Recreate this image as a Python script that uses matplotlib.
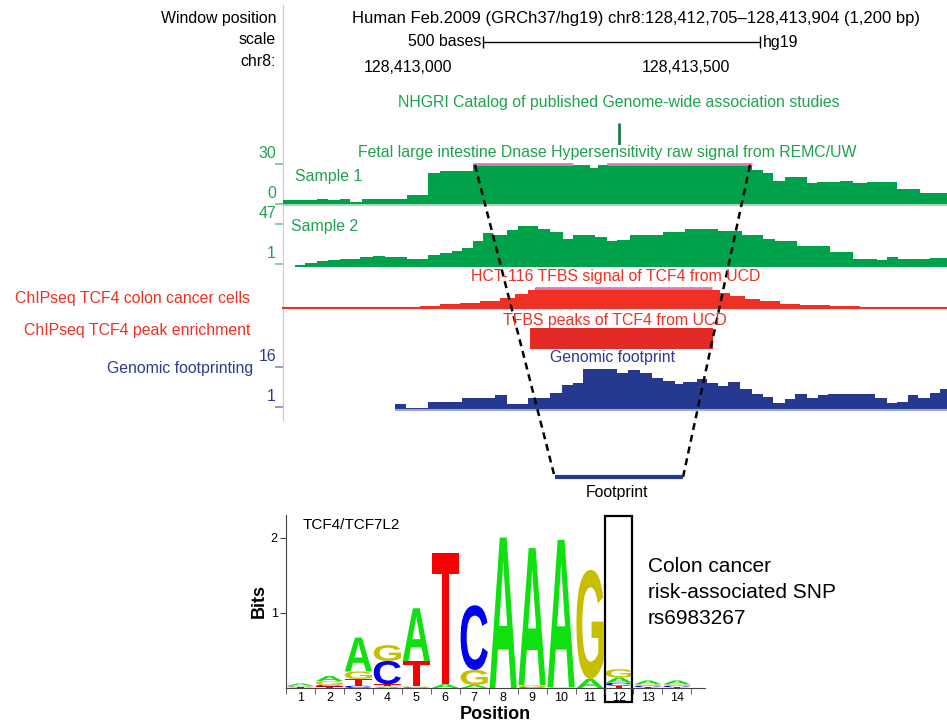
"""
TCF4 binding site at rs6983267: UCSC-style browser tracks plus the TCF4/TCF7L2 sequence logo.
"""
import numpy as np
import matplotlib
matplotlib.use("Agg")
import matplotlib.pyplot as plt
import matplotlib.transforms as mtransforms
from matplotlib.textpath import TextPath
from matplotlib.patches import PathPatch, Rectangle
from matplotlib.font_manager import FontProperties

plt.rcParams["font.family"] = ["Liberation Sans", "DejaVu Sans"]

# ── 1. Browser data (x = bp offset from chr8:128,412,705) ─────────────────────
WINDOW_BP = 1200
SCALE_START, SCALE_LEN = 362, 500
GWAS_SNP = 607

S1_EDGES = [0, 61, 81, 103, 121, 143, 224, 262, 284, 305, 343, 524, 555, 569, 585,
            847, 867, 885, 907, 947, 965, 1006, 1030, 1055, 1110, 1151, 1200]
S1_VALUES = [3, 3.7, 3, 4, 1.7, 3.7, 7, 23.6, 25, 24.4, 34, 29, 27, 29.5, 34,
             25.4, 23.6, 17.5, 20, 15.6, 16.5, 17.2, 16, 16.5, 11.5, 8.6]

S2_EDGES = [22, 40, 61, 81, 103, 139, 163, 184, 224, 262, 284, 305, 323, 343, 361,
            379, 405, 425, 461, 482, 506, 524, 564, 585, 604, 627, 687, 726, 786,
            829, 867, 889, 929, 988, 1030, 1073, 1091, 1111, 1169, 1200]
S2_VALUES = [0.5, 3, 4.7, 5.8, 7.6, 9, 11, 9, 6.9, 12, 14.5, 16, 19.3, 27.3, 36.8,
             35, 39.7, 44.8, 41.2, 37.5, 30.3, 35, 32, 27.7, 28.7, 33.9, 37.9, 41.2,
             38.6, 34.2, 29.5, 27.3, 21.5, 15, 7.6, 5.8, 9.5, 6.9, 8.4]

CHIP_EDGES = [211, 248, 284, 320, 356, 392, 419, 443, 455, 775, 790, 808, 835,
              862, 898, 934, 988, 1043, 1108]
CHIP_VALUES = [0.5, 2.5, 4, 5.5, 7.5, 10, 14, 18, 25, 18, 15, 12, 9.5, 7, 4.5,
               3.5, 2.5, 1.5]

PEAK = (446, 777)

FP_EDGES = [202, 222, 262, 323, 383, 405, 443, 482, 504, 524, 542, 604, 623, 645,
            667, 687, 708, 723, 748, 766, 786, 804, 826, 847, 867, 885, 907, 925,
            947, 967, 985, 1070, 1091, 1110, 1129, 1147, 1169, 1187, 1200]
FP_VALUES = [2.25, 0.6, 3.1, 4.4, 5.6, 2.25, 4.4, 6.2, 9.4, 10.2, 15.4, 13.7, 14.7,
             13.7, 11.9, 10.9, 9.7, 10.6, 11.6, 10, 9.1, 10.4, 7.8, 5.9, 4.8, 2.5,
             4.1, 6, 4.4, 5.4, 6, 4.4, 2.7, 3.1, 5.4, 4.4, 6.2, 7.8]

CLIPPED_REGION = (347, 844)     # top of the dashed trapezoid
FOOTPRINT = (491, 723)          # zoomed footprint bar

# ── 2. Sequence logo data (bits per base, positions 1-14) ─────────────────────
POSITIONS = list(range(1, 15))
A_BITS = [0.03, 0.07, 0.45, 0.02, 0.70, 0.05, 0.04, 2.00, 1.82, 1.96, 0.12, 0.07, 0.05, 0.05]
C_BITS = [0.01, 0.02, 0.03, 0.31, 0.01, 0.00, 0.86, 0.00, 0.01, 0.00, 0.00, 0.04, 0.02, 0.02]
G_BITS = [0.01, 0.05, 0.10, 0.21, 0.01, 0.00, 0.20, 0.00, 0.03, 0.01, 1.45, 0.11, 0.02, 0.02]
T_BITS = [0.01, 0.02, 0.09, 0.03, 0.34, 1.75, 0.00, 0.00, 0.00, 0.00, 0.00, 0.03, 0.01, 0.01]
# bottom-to-top stacking as drawn in the logo
STACK_ORDER = ["TCGA", "TCGA", "CTGA", "ATCG", "CGTA", "CGAT", "TAGC",
               "CGTA", "CTGA", "CTGA", "CTAG", "TCAG", "TCGA", "TCGA"]
SNP_POS = 12

GREEN, GREEN_TXT, GREEN_TICK = "#00A14B", "#1FA24E", "#72C690"
RED = "#EE3124"
BLUE, BLUE_TXT, BLUE_TICK = "#24398F", "#2E3A93", "#7F8CC4"
PINK = "#DC7CB8"
LETTER_COLORS = {"A": "#10E010", "C": "#0000F0", "G": "#C8BE00", "T": "#F80000"}
FS = 11.4

# ── 3. Figure scaffolding ─────────────────────────────────────────────────────
W, H = 947, 724
fig = plt.figure(figsize=(W / 100, H / 100), dpi=100)


def px_axes(left, top, right, bottom):
    ax = fig.add_axes([left / W, 1 - bottom / H, (right - left) / W, (bottom - top) / H])
    ax.patch.set_alpha(0)
    return ax


def ftext(x, y, s, **kw):
    kw.setdefault("va", "center")
    kw.setdefault("fontsize", FS)
    fig.text(x / W, 1 - y / H, s, **kw)


def track_axes(top, bottom, lo, hi):
    ax = px_axes(283, top, 947, bottom)
    ax.set_xlim(0, WINDOW_BP)
    ax.set_ylim(lo, hi)
    for s in ax.spines.values():
        s.set_visible(False)
    ax.set_xticks([])
    ax.set_yticks([])
    return ax


def y_scale(ax, ticks, color, tick_color):
    ax.set_yticks(ticks)
    ax.set_yticklabels([])
    ax.tick_params(axis="y", length=6, width=1.2, color=tick_color, direction="out")
    for v in ticks:
        ax.annotate(str(v), xy=(0, v), xycoords=("axes fraction", "data"),
                    xytext=(-7, 11), textcoords="offset pixels",
                    ha="right", va="center", fontsize=FS, color=color)


def signal(ax, edges, values, lo, hi, color):
    vals = np.asarray(values, dtype=float)
    ax.stairs(np.minimum(vals, hi), edges, fill=True, baseline=lo, color=color, lw=0)
    e = np.asarray(edges)
    clip = vals > hi
    ax.hlines(np.full(clip.sum(), hi), e[:-1][clip], e[1:][clip], color=PINK, lw=2,
              clip_on=False)


# pink separator between labels and tracks
sep = px_axes(283, 5, 947, 420)
sep.set_xticks([]); sep.set_yticks([])
for k, s in sep.spines.items():
    s.set_visible(k == "left")
sep.spines["left"].set_color("#F5B5C2")

# header
ftext(276, 18, "Window position", ha="right")
ftext(276, 40, "scale", ha="right")
ftext(276, 61, "chr8:", ha="right")
ftext(352, 18, "Human Feb.2009 (GRCh37/hg19) chr8:128,412,705\u2013128,413,904 (1,200 bp)",
      ha="left", fontsize=12)
ftext(481, 42, "500 bases", ha="right")
ftext(763, 42, "hg19", ha="left")
ftext(408, 67, "128,413,000", ha="center")
ftext(686, 67, "128,413,500", ha="center")

hdr = track_axes(30, 54, -1, 1)
hdr.hlines(0, SCALE_START, SCALE_START + SCALE_LEN, color="black", lw=1)
hdr.vlines([SCALE_START, SCALE_START + SCALE_LEN], -0.5, 0.5, color="black", lw=1)

# GWAS catalogue
ftext(619, 103, "NHGRI Catalog of published Genome-wide association studies",
      ha="center", color=GREEN_TXT)
gw = track_axes(123, 145, 0, 1)
gw.vlines(GWAS_SNP, 0, 1, color="#1C7C47", lw=2)

# DNase samples
ftext(607, 153, "Fetal large intestine Dnase Hypersensitivity raw signal from REMC/UW",
      ha="center", color=GREEN_TXT)
s1 = track_axes(164, 204, 0, 30)
s1.axhline(0, color="#9BD8B0", lw=2, zorder=0, clip_on=False)
signal(s1, S1_EDGES, S1_VALUES, 0, 30, GREEN)
y_scale(s1, [0, 30], GREEN_TXT, GREEN_TICK)
ftext(295, 176, "Sample 1", ha="left", color=GREEN_TXT)

s2 = track_axes(224, 267, -2, 47)
signal(s2, S2_EDGES, S2_VALUES, -2, 47, GREEN)
y_scale(s2, [1, 47], GREEN_TXT, GREEN_TICK)
ftext(291, 227, "Sample 2", ha="left", color=GREEN_TXT)

# ChIP-seq signal and peak
ftext(616, 277, "HCT-116 TFBS signal of TCF4 from UCD", ha="center", color=RED)
ftext(250, 298, "ChIPseq TCF4 colon cancer cells", ha="right", color=RED)
ch = track_axes(288, 308, 0, 20)
ch.axhline(0, color=RED, lw=1.5, clip_on=False)
signal(ch, CHIP_EDGES, CHIP_VALUES, 0, 20, RED)

ftext(615, 320, "TFBS peaks of TCF4 from UCD", ha="center", color=RED)
ftext(250, 331, "ChIPseq TCF4 peak enrichment", ha="right", color=RED)
pk = track_axes(328, 349, -0.5, 0.5)
pk.barh(0, PEAK[1] - PEAK[0], left=PEAK[0], height=1, color="#E42A24")

# genomic footprinting
ftext(613, 357, "Genomic footprint", ha="center", color=BLUE_TXT)
ftext(253, 369, "Genomic footprinting", ha="right", color=BLUE_TXT)
fp = track_axes(367, 410, 0, 16)
fp.hlines(0, FP_EDGES[0], FP_EDGES[-1], color="#9AA8DA", lw=1.5, clip_on=False)
signal(fp, FP_EDGES, FP_VALUES, 0, 16, BLUE)
y_scale(fp, [1, 16], BLUE_TXT, BLUE_TICK)

# dashed zoom lines and footprint bar
ov = track_axes(165, 477, 0, 1)
for top_x, bot_x in zip(CLIPPED_REGION, FOOTPRINT):
    ov.plot([top_x, bot_x], [1, 0], color="black", lw=1.8, ls=(0, (2.8, 2.0)),
            clip_on=False)
ov.hlines(0, FOOTPRINT[0], FOOTPRINT[1], color=BLUE, lw=3, clip_on=False)
ftext(617, 492, "Footprint", ha="center")

# ── 4. Sequence logo ─────────────────────────────────────────────────────────
logo_font = FontProperties(family="Liberation Sans", weight="bold")


def draw_letter(ax, ch, x, y, w, h, color):
    tp = TextPath((0, 0), ch, size=1, prop=logo_font)
    bb = tp.get_extents()
    tr = (mtransforms.Affine2D().translate(-bb.x0, -bb.y0)
          .scale(w / bb.width, h / bb.height).translate(x, y))
    ax.add_patch(PathPatch(tr.transform_path(tp), fc=color, ec="none", lw=0))


lg = px_axes(286, 515, 705, 688)
lg.set_xlim(0.62, 14.97)
lg.set_ylim(0, 2.3)
lg.spines["top"].set_visible(False)
lg.spines["right"].set_visible(False)
lg.spines["left"].set_color("#444444")
lg.spines["bottom"].set_color("#444444")

bits = {"A": A_BITS, "C": C_BITS, "G": G_BITS, "T": T_BITS}
for i, pos in enumerate(POSITIONS):
    base = 0.0
    for b in STACK_ORDER[i]:
        h = bits[b][i]
        if h <= 0:
            continue
        draw_letter(lg, b, pos - 0.47, base, 0.94, h, LETTER_COLORS[b])
        base += h

lg.set_yticks([1, 2])
lg.set_yticklabels(["1", "2"], fontsize=9)
lg.set_xticks(POSITIONS)
lg.set_xticklabels([str(p) for p in POSITIONS], fontsize=9)
lg.set_xticks(np.arange(0.5, 15, 1.0), minor=True)
lg.tick_params(axis="x", which="major", length=0, pad=3)
lg.tick_params(axis="x", which="minor", length=4, color="#444444")
lg.tick_params(axis="y", length=4, color="#444444", pad=2)
lg.set_xlabel("Position", fontsize=13, fontweight="bold", labelpad=1)
lg.set_ylabel("Bits", fontsize=13, fontweight="bold", labelpad=2)
lg.text(0.04, 0.94, "TCF4/TCF7L2", transform=lg.transAxes, fontsize=11, va="center")
lg.add_patch(Rectangle((SNP_POS - 0.48, -0.19), 0.93, 2.48, fill=False, ec="black",
                       lw=1.6, clip_on=False))

ftext(648, 566, "Colon cancer", ha="left", fontsize=15)
ftext(648, 592, "risk-associated SNP", ha="left", fontsize=15)
ftext(648, 618, "rs6983267", ha="left", fontsize=15)

fig.savefig("out.png", dpi=100)
